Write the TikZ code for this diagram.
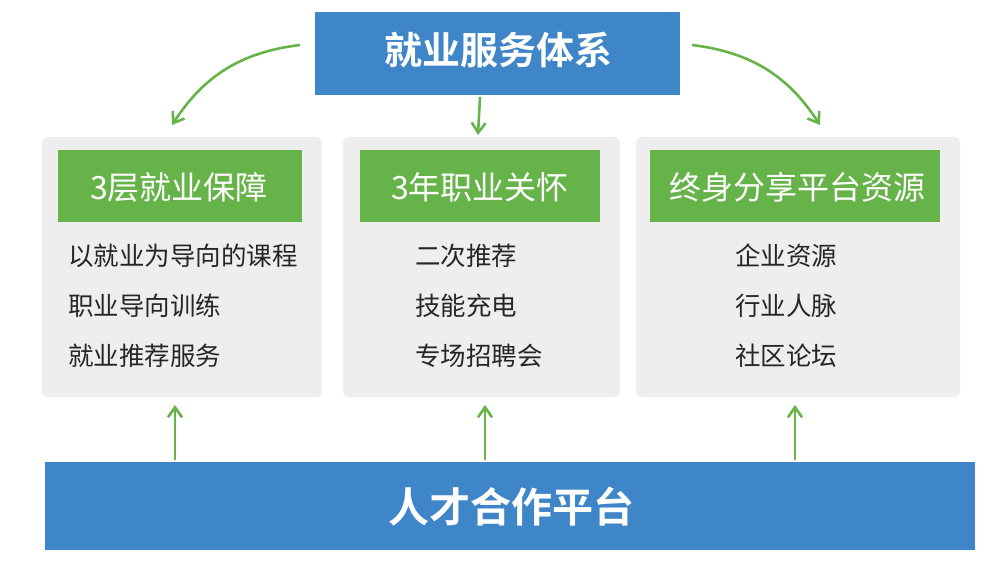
\documentclass[tikz,border=0pt]{standalone}
\usepackage{fontspec}
\setmainfont{Noto Sans CJK SC}
\newfontfamily\cjkb{Noto Sans CJK SC Bold}
\usetikzlibrary{arrows.meta}
\definecolor{bblue}{HTML}{3F86C8}
\definecolor{ggreen}{HTML}{66B34A}
\definecolor{gbox}{HTML}{EEEEEE}
\tikzset{
 banner/.style={fill=bblue,inner sep=0,text=white,font=\cjkb\fontsize{38}{40}\selectfont},
 gban/.style={fill=ggreen,inner sep=0,text=white,font=\fontsize{32}{34}\selectfont},
 panel/.style={fill=gbox,rounded corners=6pt},
 item/.style={anchor=west,inner sep=0,text=black!85,font=\fontsize{25.5}{28}\selectfont},
 arr/.style={draw=ggreen,line width=2.6pt,-{Straight Barb[length=10pt,width=14pt]}}
}
\begin{document}
\begin{tikzpicture}[x=1pt,y=-1pt]
\useasboundingbox (0,0) rectangle (1000,563);
\fill[panel] (42,137) rectangle (322,397);
\fill[panel] (343,137) rectangle (620,397);
\fill[panel] (636,137) rectangle (960,397);
\fill[bblue] (315,12) rectangle (680,95);
\node[banner] (top) at (498,50) {就业服务体系};
\fill[bblue] (45,462) rectangle (975,550);
\node[banner,font=\cjkb\fontsize{41}{43}\selectfont] (bot) at (511,507) {人才合作平台};
\fill[ggreen] (58,150) rectangle (302,222);
\fill[ggreen] (360,150) rectangle (600,222);
\fill[ggreen] (650,150) rectangle (940,222);
\node[gban] (g1) at (179,187) {3层就业保障};
\node[gban] (g2) at (480,187) {3年职业关怀};
\node[gban] (g3) at (797,187) {终身分享平台资源};
\node[item] (a1) at (68,256) {以就业为导向的课程};
\node[item] (a2) at (68,306) {职业导向训练};
\node[item] (a3) at (68,356) {就业推荐服务};
\node[item] (b1) at (415,256) {二次推荐};
\node[item] (b2) at (415,306) {技能充电};
\node[item] (b3) at (415,356) {专场招聘会};
\node[item] (c1) at (735,256) {企业资源};
\node[item] (c2) at (735,306) {行业人脉};
\node[item] (c3) at (735,356) {社区论坛};
\coordinate (t1) at (300,45); \coordinate (h1) at (172,125);
\coordinate (t2) at (480,97); \coordinate (h2) at (478,135);
\coordinate (t3) at (692,45); \coordinate (h3) at (820,125);
\draw[arr] (t1) to[bend right=25] (h1);
\draw[arr] (t2) -- (h2);
\draw[arr] (t3) to[bend left=25] (h3);
\coordinate (u1) at (175,460); \coordinate (v1) at (175,405);
\coordinate (u2) at (485,460); \coordinate (v2) at (485,405);
\coordinate (u3) at (795,460); \coordinate (v3) at (795,405);
\draw[arr] (u1) -- (v1);
\draw[arr] (u2) -- (v2);
\draw[arr] (u3) -- (v3);
\end{tikzpicture}
\end{document}
